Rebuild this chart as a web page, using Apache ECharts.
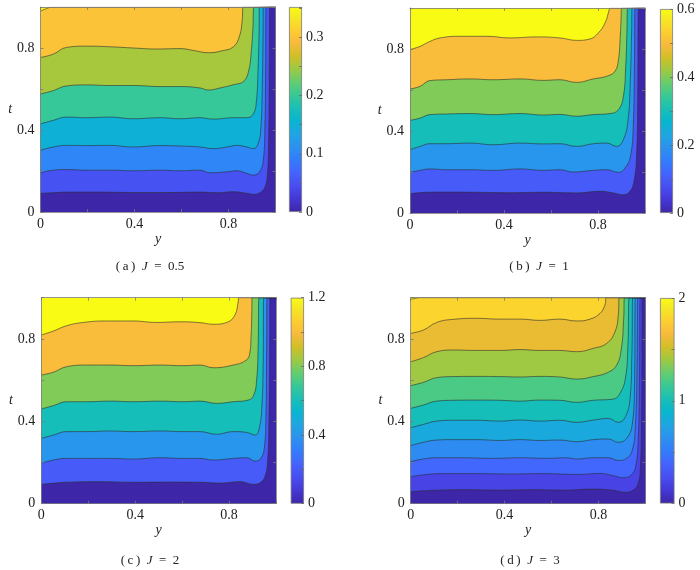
<!DOCTYPE html>
<html>
<head>
<meta charset="utf-8">
<script src="https://cdn.jsdelivr.net/npm/echarts@6.0.0/dist/echarts.min.js"></script>
<style>
  html, body { margin: 0; padding: 0; background: #ffffff; }
  #chart { width: 700px; height: 570px; }
</style>
</head>
<body>
<div id="chart"></div>
<script>
// ---------------- Data ----------------
// Panel (a) J = 0.5 : contour levels, colour range, colorbar ticks
const A_LEVELS = [0.05, 0.10, 0.15, 0.20, 0.25, 0.30, 0.35];
const A_CMAX = 0.352;
const A_TICK = 0.05;
const A_LABEL = 0.1;
const A_C005 = [[0,0.091],[0.054,0.094],[0.111,0.097],[0.253,0.097],[0.395,0.095],[0.537,0.095],[0.679,0.097],[0.750,0.094],[0.821,0.099],[0.878,0.091],[0.906,0.086],[0.940,0.099],[0.958,0.131],[0.966,0.188],[0.970,0.301],[0.973,0.544],[0.974,0.786],[0.975,1.0]];
const A_C010 = [[0,0.191],[0.054,0.204],[0.111,0.207],[0.196,0.204],[0.295,0.204],[0.395,0.201],[0.509,0.204],[0.594,0.201],[0.679,0.204],[0.722,0.191],[0.793,0.196],[0.835,0.201],[0.878,0.188],[0.906,0.180],[0.932,0.196],[0.948,0.252],[0.955,0.414],[0.958,0.706],[0.960,1.0]];
const A_C015 = [[0,0.301],[0.054,0.317],[0.111,0.325],[0.196,0.324],[0.295,0.325],[0.395,0.317],[0.509,0.324],[0.594,0.322],[0.679,0.317],[0.736,0.309],[0.793,0.317],[0.835,0.325],[0.878,0.317],[0.906,0.309],[0.926,0.333],[0.938,0.414],[0.944,0.625],[0.947,0.867],[0.948,1.0]];
const A_C020 = [[0,0.430],[0.054,0.447],[0.111,0.463],[0.196,0.460],[0.295,0.463],[0.395,0.455],[0.509,0.460],[0.594,0.455],[0.679,0.460],[0.736,0.453],[0.821,0.460],[0.878,0.460],[0.906,0.479],[0.919,0.544],[0.926,0.706],[0.930,0.867],[0.932,1.0]];
const A_C025 = [[0,0.576],[0.054,0.592],[0.111,0.615],[0.196,0.620],[0.295,0.617],[0.395,0.617],[0.509,0.612],[0.594,0.612],[0.679,0.605],[0.714,0.595],[0.764,0.605],[0.821,0.621],[0.864,0.637],[0.886,0.689],[0.897,0.786],[0.904,0.900],[0.908,1.0]];
const A_C030 = [[0,0.754],[0.054,0.770],[0.111,0.803],[0.196,0.809],[0.295,0.806],[0.395,0.800],[0.494,0.795],[0.594,0.797],[0.651,0.788],[0.714,0.777],[0.771,0.786],[0.821,0.806],[0.847,0.859],[0.858,0.932],[0.863,1.0]];
const A_C035 = [[0,0.980],[0.025,0.992],[0.050,1.0]];

// Panel (b) J = 1
const B_LEVELS = [0.1, 0.2, 0.3, 0.4, 0.5, 0.6];
const B_CMAX = 0.6;
const B_TICK = 0.1;
const B_LABEL = 0.2;
const B_C010 = [[0,0.094],[0.071,0.101],[0.156,0.102],[0.284,0.101],[0.426,0.099],[0.567,0.101],[0.709,0.098],[0.809,0.106],[0.865,0.098],[0.908,0.089],[0.936,0.106],[0.953,0.154],[0.964,0.276],[0.969,0.553],[0.972,1.0]];
const B_C020 = [[0,0.198],[0.043,0.208],[0.085,0.215],[0.156,0.211],[0.255,0.211],[0.355,0.208],[0.468,0.215],[0.567,0.208],[0.638,0.211],[0.695,0.200],[0.780,0.208],[0.837,0.211],[0.887,0.198],[0.915,0.220],[0.938,0.276],[0.950,0.423],[0.955,0.715],[0.958,1.0]];
const B_C030 = [[0,0.309],[0.043,0.325],[0.085,0.338],[0.156,0.338],[0.255,0.341],[0.355,0.333],[0.468,0.341],[0.567,0.337],[0.638,0.338],[0.709,0.325],[0.780,0.338],[0.837,0.341],[0.879,0.325],[0.908,0.358],[0.928,0.455],[0.937,0.634],[0.943,0.878],[0.945,1.0]];
const B_C040 = [[0,0.452],[0.043,0.463],[0.085,0.480],[0.156,0.483],[0.255,0.485],[0.355,0.480],[0.468,0.485],[0.567,0.478],[0.638,0.481],[0.709,0.472],[0.780,0.480],[0.851,0.485],[0.887,0.504],[0.908,0.569],[0.918,0.715],[0.923,0.878],[0.926,1.0]];
const B_C050 = [[0,0.605],[0.043,0.618],[0.085,0.646],[0.156,0.650],[0.255,0.654],[0.355,0.650],[0.468,0.654],[0.567,0.647],[0.638,0.650],[0.709,0.637],[0.780,0.654],[0.837,0.667],[0.872,0.691],[0.887,0.748],[0.894,0.846],[0.898,0.943],[0.901,1.0]];
const B_C060 = [[0,0.797],[0.043,0.813],[0.085,0.837],[0.128,0.854],[0.213,0.862],[0.326,0.862],[0.426,0.854],[0.539,0.859],[0.638,0.854],[0.709,0.842],[0.766,0.849],[0.801,0.878],[0.830,0.927],[0.848,0.992],[0.851,1.0]];

// Panel (c) J = 2
const C_LEVELS = [0.2, 0.4, 0.6, 0.8, 1.0, 1.2];
const C_CMAX = 1.2;
const C_TICK = 0.2;
const C_LABEL = 0.4;
const C_C020 = [[0,0.094],[0.108,0.104],[0.250,0.107],[0.392,0.104],[0.534,0.105],[0.676,0.104],[0.761,0.100],[0.847,0.107],[0.903,0.094],[0.935,0.104],[0.955,0.139],[0.965,0.220],[0.970,0.414],[0.973,0.738],[0.974,1.0]];
const C_C040 = [[0,0.196],[0.051,0.212],[0.108,0.220],[0.193,0.220],[0.293,0.220],[0.392,0.217],[0.506,0.223],[0.605,0.220],[0.676,0.220],[0.733,0.212],[0.818,0.220],[0.875,0.223],[0.911,0.207],[0.935,0.220],[0.950,0.269],[0.957,0.414],[0.960,0.738],[0.962,1.0]];
const C_C060 = [[0,0.317],[0.051,0.333],[0.108,0.350],[0.193,0.350],[0.293,0.353],[0.392,0.350],[0.506,0.353],[0.605,0.350],[0.676,0.350],[0.747,0.337],[0.818,0.350],[0.875,0.346],[0.911,0.333],[0.930,0.374],[0.940,0.479],[0.945,0.657],[0.948,1.0]];
const C_C080 = [[0,0.460],[0.051,0.476],[0.108,0.495],[0.193,0.495],[0.293,0.498],[0.392,0.495],[0.506,0.498],[0.605,0.495],[0.676,0.498],[0.747,0.487],[0.818,0.495],[0.882,0.503],[0.905,0.527],[0.918,0.608],[0.924,0.770],[0.928,1.0]];
const C_C100 = [[0,0.625],[0.051,0.638],[0.108,0.665],[0.193,0.673],[0.293,0.673],[0.392,0.670],[0.506,0.673],[0.605,0.670],[0.676,0.673],[0.733,0.660],[0.818,0.673],[0.868,0.693],[0.887,0.722],[0.894,0.819],[0.897,0.932],[0.898,1.0]];
const C_C120 = [[0,0.819],[0.051,0.838],[0.108,0.864],[0.179,0.880],[0.278,0.887],[0.392,0.887],[0.491,0.880],[0.591,0.883],[0.676,0.879],[0.733,0.871],[0.790,0.880],[0.825,0.916],[0.839,0.981],[0.842,1.0]];

// Panel (d) J = 3
const D_LEVELS = [0.2, 0.4, 0.6, 0.8, 1.0, 1.2, 1.4, 1.6, 1.8, 2.0];
const D_CMAX = 2.0;
const D_TICK = 0.5;
const D_LABEL = 1;
const D_C020 = [[0,0.058],[0.097,0.065],[0.239,0.068],[0.381,0.066],[0.523,0.068],[0.665,0.066],[0.778,0.071],[0.864,0.065],[0.913,0.055],[0.949,0.066],[0.970,0.099],[0.979,0.172],[0.984,0.382],[0.986,0.738],[0.987,1.0]];
const D_C040 = [[0,0.131],[0.068,0.142],[0.153,0.146],[0.281,0.146],[0.423,0.144],[0.565,0.146],[0.707,0.142],[0.807,0.147],[0.864,0.136],[0.906,0.126],[0.942,0.142],[0.960,0.188],[0.970,0.317],[0.975,0.576],[0.978,1.0]];
const D_C060 = [[0,0.204],[0.054,0.217],[0.111,0.223],[0.210,0.223],[0.352,0.220],[0.466,0.223],[0.580,0.220],[0.665,0.223],[0.707,0.217],[0.778,0.223],[0.842,0.223],[0.885,0.210],[0.920,0.220],[0.945,0.261],[0.958,0.382],[0.965,0.657],[0.968,1.0]];
const D_C080 = [[0,0.282],[0.054,0.298],[0.111,0.309],[0.182,0.311],[0.281,0.311],[0.381,0.307],[0.466,0.311],[0.551,0.307],[0.636,0.309],[0.707,0.301],[0.778,0.311],[0.842,0.314],[0.885,0.298],[0.920,0.317],[0.944,0.382],[0.954,0.576],[0.958,1.0]];
const D_C100 = [[0,0.369],[0.054,0.385],[0.111,0.401],[0.182,0.405],[0.281,0.405],[0.381,0.401],[0.466,0.406],[0.551,0.401],[0.636,0.405],[0.707,0.395],[0.778,0.406],[0.842,0.414],[0.885,0.395],[0.915,0.422],[0.935,0.511],[0.943,0.738],[0.947,1.0]];
const D_C120 = [[0,0.463],[0.054,0.479],[0.111,0.498],[0.182,0.502],[0.281,0.503],[0.381,0.502],[0.466,0.498],[0.551,0.503],[0.636,0.502],[0.707,0.492],[0.778,0.502],[0.864,0.508],[0.892,0.536],[0.915,0.608],[0.926,0.770],[0.932,1.0]];
const D_C140 = [[0,0.573],[0.054,0.589],[0.111,0.612],[0.182,0.617],[0.281,0.618],[0.381,0.617],[0.466,0.615],[0.551,0.618],[0.636,0.615],[0.707,0.605],[0.778,0.617],[0.842,0.638],[0.878,0.673],[0.898,0.754],[0.908,0.900],[0.911,1.0]];
const D_C160 = [[0,0.689],[0.054,0.709],[0.111,0.738],[0.182,0.746],[0.281,0.744],[0.381,0.744],[0.466,0.748],[0.551,0.744],[0.636,0.744],[0.707,0.738],[0.778,0.754],[0.835,0.778],[0.871,0.835],[0.885,0.916],[0.889,1.0]];
const D_C180 = [[0,0.827],[0.054,0.843],[0.111,0.880],[0.182,0.895],[0.281,0.900],[0.381,0.896],[0.466,0.896],[0.551,0.890],[0.636,0.896],[0.707,0.887],[0.764,0.896],[0.807,0.924],[0.828,0.964],[0.835,1.0]];
const D_C200 = [[0,0.992],[0.020,0.997],[0.040,1.0]];

// Axis tick labels shown on the y and t axes
const AXIS_LABELS = ['0', '0.4', '0.8'];
const AXIS_TICK = 0.2;

// Captions
const CAPTIONS = [
  ['(\u2009a\u2009)  ', 'J', '  =  0.5'],
  ['(\u2009b\u2009)  ', 'J', '  =  1'],
  ['(\u2009c\u2009)  ', 'J', '  =  2'],
  ['(\u2009d\u2009)  ', 'J', '  =  3']
];

// ---------------- Colour map (parula) ----------------
const PARULA_STOPS = [
  [0/63,0.2422,0.1504,0.6603],[4/63,0.2706,0.2147,0.8364],[8/63,0.2813,0.3006,0.9414],
  [12/63,0.2699,0.3892,0.9906],[16/63,0.1963,0.4847,0.9892],[20/63,0.1687,0.5703,0.9359],
  [24/63,0.1248,0.6459,0.8883],[28/63,0.0297,0.7082,0.8163],[32/63,0.0964,0.7500,0.7120],
  [36/63,0.2161,0.7843,0.5923],[40/63,0.3909,0.8029,0.4354],[44/63,0.6174,0.7876,0.2612],
  [48/63,0.8203,0.7498,0.1535],[52/63,0.9728,0.7298,0.2394],[56/63,0.9892,0.8136,0.1885],
  [60/63,0.9597,0.9135,0.1423],[63/63,0.9769,0.9839,0.0805]
];
function toRgb(r, g, b) {
  return 'rgb(' + Math.round(r*255) + ',' + Math.round(g*255) + ',' + Math.round(b*255) + ')';
}
function parula(f) {
  f = Math.max(0, Math.min(1, f));
  for (let i = 0; i < PARULA_STOPS.length - 1; i++) {
    const a = PARULA_STOPS[i], b = PARULA_STOPS[i+1];
    if (f <= b[0]) {
      const u = (f - a[0]) / (b[0] - a[0]);
      return toRgb(a[1] + u*(b[1]-a[1]), a[2] + u*(b[2]-a[2]), a[3] + u*(b[3]-a[3]));
    }
  }
  const l = PARULA_STOPS[PARULA_STOPS.length-1];
  return toRgb(l[1], l[2], l[3]);
}

// ---------------- Panels ----------------
const PANELS = [
  { levels: A_LEVELS, contours: [A_C005,A_C010,A_C015,A_C020,A_C025,A_C030,A_C035], cmax: A_CMAX, tick: A_TICK, label: A_LABEL },
  { levels: B_LEVELS, contours: [B_C010,B_C020,B_C030,B_C040,B_C050,B_C060], cmax: B_CMAX, tick: B_TICK, label: B_LABEL },
  { levels: C_LEVELS, contours: [C_C020,C_C040,C_C060,C_C080,C_C100,C_C120], cmax: C_CMAX, tick: C_TICK, label: C_LABEL },
  { levels: D_LEVELS, contours: [D_C020,D_C040,D_C060,D_C080,D_C100,D_C120,D_C140,D_C160,D_C180,D_C200], cmax: D_CMAX, tick: D_TICK, label: D_LABEL }
];

// Layout (pixel boxes)
const LAYOUT = [
  { plot: {left: 40.5, top: 7,     width: 235,   height: 205}, bar: {left: 289,   top: 7,     width: 13,   height: 205},   cap: {x: 150, y: 260.5} },
  { plot: {left: 410,  top: 8,     width: 235,   height: 205}, bar: {left: 660,   top: 9,     width: 13,   height: 204},   cap: {x: 539, y: 260.5} },
  { plot: {left: 41.3, top: 297.7, width: 234.7, height: 206}, bar: {left: 290.7, top: 297.7, width: 13.3, height: 206},   cap: {x: 150, y: 554} },
  { plot: {left: 410.7,top: 297.7, width: 234.6, height: 206}, bar: {left: 660,   top: 298,   width: 14.5, height: 205.5}, cap: {x: 530, y: 554} }
];

const SERIF = "'Liberation Serif', 'Times New Roman', serif";
const AXIS_COLOR = '#7a7a7a';
const TEXT_COLOR = '#222222';

function axisLabelFmt(v) {
  const r = Math.round(v * 10);
  if (r === 0) return AXIS_LABELS[0];
  if (r === 4) return AXIS_LABELS[1];
  if (r === 8) return AXIS_LABELS[2];
  return '';
}

const grids = [], xAxes = [], yAxes = [], series = [], titles = [];

PANELS.forEach(function (P, p) {
  const L = LAYOUT[p];
  const topColor = parula(P.levels[P.levels.length-1] / P.cmax);
  grids.push(Object.assign({ show: true, backgroundColor: topColor, borderWidth: 0, containLabel: false, outerBoundsMode: 'none' }, L.plot));
  grids.push(Object.assign({ show: false, containLabel: false, outerBoundsMode: 'none' }, L.bar));
  const gPlot = 2*p, gBar = 2*p + 1;

  const common = {
    type: 'value', min: 0, max: 1, interval: AXIS_TICK, gridIndex: gPlot, z: 5,
    splitLine: { show: false },
    axisLine: { show: true, onZero: false, lineStyle: { color: AXIS_COLOR, width: 0.8 } },
    axisTick: { show: true, inside: true, length: 3, lineStyle: { color: AXIS_COLOR, width: 0.8 } }
  };
  xAxes.push(Object.assign({}, common, {
    position: 'bottom',
    name: 'y', nameLocation: 'middle', nameGap: 17,
    nameTextStyle: { fontFamily: SERIF, fontStyle: 'italic', fontSize: 14, color: TEXT_COLOR },
    axisLabel: { show: true, formatter: axisLabelFmt, fontFamily: SERIF, fontSize: 14, color: TEXT_COLOR, margin: 5, showMaxLabel: true, showMinLabel: true }
  }));
  xAxes.push(Object.assign({}, common, { position: 'top', axisLabel: { show: false } }));
  xAxes.push({ type: 'category', gridIndex: gBar, data: ['c'], show: false, boundaryGap: true });

  yAxes.push(Object.assign({}, common, {
    position: 'left',
    name: 't', nameLocation: 'middle', nameGap: 27, nameRotate: 0,
    nameTextStyle: { fontFamily: SERIF, fontStyle: 'italic', fontSize: 14, color: TEXT_COLOR },
    axisLabel: { show: true, formatter: axisLabelFmt, fontFamily: SERIF, fontSize: 14, color: TEXT_COLOR, margin: 6, showMaxLabel: true, showMinLabel: true }
  }));
  yAxes.push(Object.assign({}, common, { position: 'right', axisLabel: { show: false } }));
  yAxes.push({
    type: 'value', gridIndex: gBar, min: 0, max: P.cmax, interval: P.tick, position: 'right', z: 5,
    splitLine: { show: false },
    axisLine: { show: false },
    axisTick: { show: true, inside: true, length: 3, lineStyle: { color: '#6a6a6a', width: 0.8 } },
    axisLabel: {
      show: true, fontFamily: SERIF, fontSize: 14, color: TEXT_COLOR, margin: 4,
      showMaxLabel: true, showMinLabel: true,
      formatter: (function (step, cmax) {
        return function (v) {
          const q = v / step;
          if (Math.abs(q - Math.round(q)) > 1e-6) return '';
          if (v > cmax + 1e-9) return '';
          return String(+v.toFixed(6));
        };
      })(P.label, P.cmax)
    }
  });

  const xi = 3*p, yi = 3*p;
  for (let k = P.contours.length - 1; k >= 0; k--) {
    const below = k === 0 ? 0 : P.levels[k-1];
    const fill = parula(below / P.cmax);
    const pts = P.contours[k].concat([[1, 1]]);
    series.push({
      type: 'line', xAxisIndex: xi, yAxisIndex: yi, data: pts,
      showSymbol: false, symbol: 'none', smooth: 0.45,
      silent: true, animation: false, clip: true, z: 2,
      lineStyle: { color: 'rgba(45,45,45,0.85)', width: 0.7 },
      areaStyle: { color: fill, opacity: 1, origin: 'start' }
    });
  }

  series.push({
    type: 'bar', xAxisIndex: 3*p + 2, yAxisIndex: 3*p + 2, data: [P.cmax],
    barWidth: '100%', silent: true, animation: false, z: 2,
    itemStyle: {
      borderColor: '#7a7a7a', borderWidth: 0.8,
      color: {
        type: 'linear', x: 0, y: 1, x2: 0, y2: 0,
        colorStops: PARULA_STOPS.map(function (s) { return { offset: s[0], color: toRgb(s[1], s[2], s[3]) }; })
      }
    }
  });

  const c = CAPTIONS[p];
  titles.push({
    text: c[0] + '{i|' + c[1] + '}' + c[2],
    left: L.cap.x, top: L.cap.y, textAlign: 'center', padding: 0,
    textStyle: {
      fontFamily: SERIF, fontSize: 13, fontWeight: 'normal', color: TEXT_COLOR,
      rich: { i: { fontFamily: SERIF, fontSize: 13, fontStyle: 'italic', color: TEXT_COLOR } }
    }
  });
});

const chart = echarts.init(document.getElementById('chart'), null, { renderer: 'canvas', width: 700, height: 570 });
chart.setOption({
  backgroundColor: '#ffffff',
  animation: false,
  title: titles,
  grid: grids,
  xAxis: xAxes,
  yAxis: yAxes,
  series: series
});
</script>
</body>
</html>
